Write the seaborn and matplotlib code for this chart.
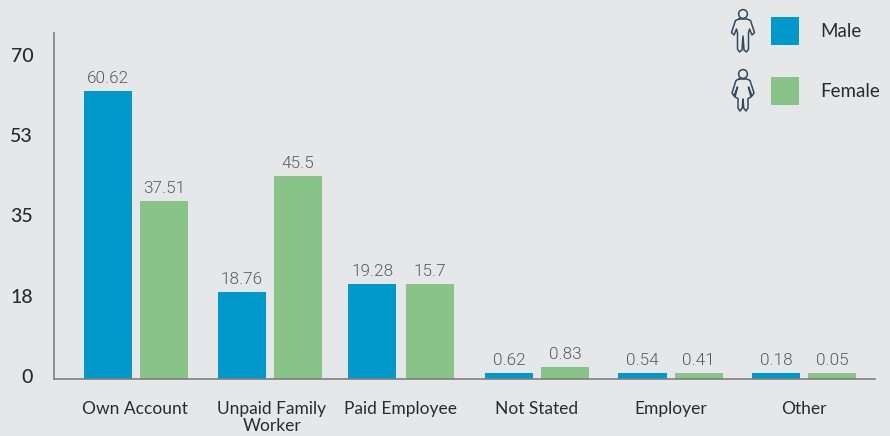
import pandas as pd
import matplotlib
matplotlib.use("Agg")
import matplotlib.pyplot as plt
import matplotlib.transforms as mtrans
from matplotlib.patches import Circle
import seaborn as sns

# Data (drawn heights differ from the printed numbers in the original graphic)
categories = ["Own Account", "Unpaid Family\nWorker", "Paid Employee", "Not Stated", "Employer", "Other"]
male_heights = [62.8, 19.0, 20.7, 1.3, 1.3, 1.3]
female_heights = [38.8, 44.3, 20.7, 2.6, 1.3, 1.3]
male_labels = ["60.62", "18.76", "19.28", "0.62", "0.54", "0.18"]
female_labels = ["37.51", "45.5", "15.7", "0.83", "0.41", "0.05"]
y_ticks = [0, 17.5, 35, 52.5, 70]
y_tick_labels = ["0", "18", "35", "53", "70"]

BG = "#E6E7E9"
BLUE = "#0099CC"
GREEN = "#88C487"
AXIS = "#7F7F7F"
INK = "#2B2B2B"
ICON = "#2F4A5E"

df = pd.DataFrame({
    "Category": categories * 2,
    "Height": male_heights + female_heights,
    "Sex": ["Male"] * len(categories) + ["Female"] * len(categories),
})

sns.set_theme(style="white")
plt.rcParams["font.family"] = ["Lato", "DejaVu Sans"]

W, H = 890, 436
fig = plt.figure(figsize=(W / 100, H / 100), dpi=100, facecolor=BG)
ax = fig.add_axes([54 / W, 1 - 379 / H, (875 - 54) / W, (379 - 33) / H], facecolor=BG)

sns.barplot(data=df, x="Category", y="Height", hue="Sex", order=categories,
            palette={"Male": BLUE, "Female": GREEN}, saturation=1,
            width=0.84, gap=0.143, linewidth=0, edgecolor="none", ax=ax)

ax.set_xlim(-0.614, 5.53)
ax.set_ylim(0, 75.4)
ax.set_xlabel("")
ax.set_ylabel("")

# The original groups are not quite evenly spaced, nudge the third one (pixels)
px = 1 / (821 / (5.53 + 0.614))
for container, nudge in zip(ax.containers, [-3, -1]):
    bar = container.patches[2]
    bar.set_x(bar.get_x() + nudge * px)

for container, labels in zip(ax.containers, [male_labels, female_labels]):
    ax.bar_label(container, labels=labels, padding=3.5, fontsize=12.3, color="#5A5A5A", family="Roboto", fontweight=300)

ax.set_yticks(y_ticks)
ax.set_yticklabels(y_tick_labels, fontsize=14, color=INK, fontweight="medium")
ax.tick_params(axis="y", length=0, pad=15)
ax.tick_params(axis="x", length=0, pad=15.5, labelsize=12.5, labelcolor=INK)
for lab in ax.get_yticklabels():
    lab.set_transform(lab.get_transform() + mtrans.ScaledTranslation(0, 3 / 100, fig.dpi_scale_trans))
for lab, nudge in zip(ax.get_xticklabels(), [-1, 2, -3, 0, 0, 0]):
    lab.set_linespacing(1.1)
    lab.set_transform(lab.get_transform() + mtrans.ScaledTranslation(nudge / 100, 0, fig.dpi_scale_trans))

sns.despine(ax=ax)
for side in ["left", "bottom"]:
    ax.spines[side].set_color(AXIS)
    ax.spines[side].set_linewidth(1.2)

# Legend
handles, names = ax.get_legend_handles_labels()
leg = ax.legend(handles, names, loc="upper left", bbox_to_anchor=(771 / W, 1 - 17 / H),
                bbox_transform=fig.transFigure, frameon=False, fontsize=13.5,
                handlelength=1.493, handleheight=1.92, labelspacing=1.71,
                handletextpad=1.15, borderpad=0, borderaxespad=0, labelcolor=INK)

# Person icons, pixel coordinates on a full-figure overlay
overlay = fig.add_axes([0, 0, 1, 1], facecolor="none")
overlay.set_xlim(0, W)
overlay.set_ylim(H, 0)
overlay.axis("off")

male_half = [(-4, 19), (-7.5, 20.5), (-10, 28), (-11.5, 32.5), (-9, 35), (-6.5, 29), (-5.5, 33),
             (-5.5, 49), (-3.5, 52), (-1, 50), (0, 36)]
female_half = [(-4, 79), (-7, 80.5), (-11, 93), (-9, 96), (-5.5, 87), (-8, 97), (-5, 98.5),
               (-5, 108), (-3, 111), (-0.7, 108), (0, 99)]


def draw_person(cx, cy, half):
    xs = [cx + p[0] for p in half] + [cx - p[0] for p in reversed(half)]
    ys = [p[1] for p in half] + [p[1] for p in reversed(half)]
    overlay.plot(xs + xs[:1], ys + ys[:1], color=ICON, lw=1.1, solid_joinstyle="round")
    overlay.add_patch(Circle((cx, cy), 4.4, fill=False, ec=ICON, lw=1.1))


draw_person(743, 14, male_half)
draw_person(743, 74, female_half)

fig.savefig("out.png", dpi=100, facecolor=BG)
